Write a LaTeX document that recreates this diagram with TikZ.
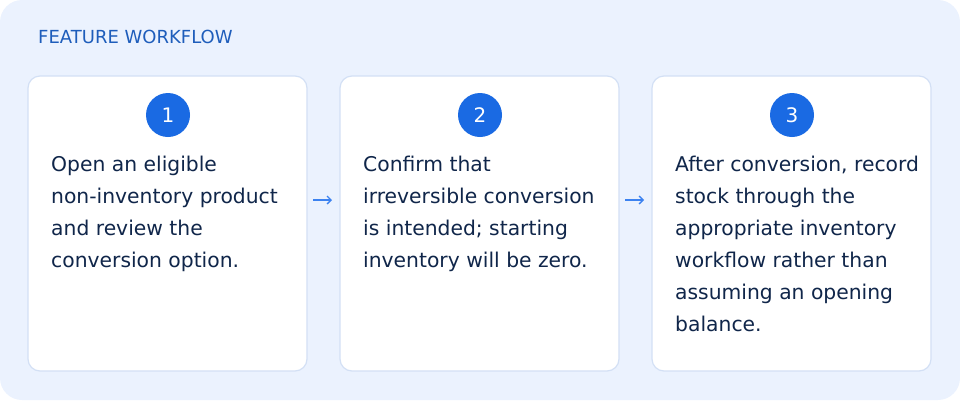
\documentclass[tikz,border=0pt]{standalone}
\usepackage{fontspec}
\setmainfont{DejaVu Sans}
\begin{document}
\begin{tikzpicture}[x=1pt,y=-1pt,
  card/.style={draw=cardline,line width=1.2pt,fill=white,rounded corners=12pt},
  num/.style={circle,fill=numblue,text=white,minimum size=44pt,inner sep=0pt,font=\fontsize{20}{20}\selectfont},
  body/.style={anchor=north west,align=left,text=bodytxt,inner sep=0pt,font=\fontsize{20.3}{32}\selectfont},
  arr/.style={->,draw=arrblue,line width=1.3pt,>={Straight Barb[length=4pt]}}]
\usetikzlibrary{arrows.meta}
\definecolor{bg}{HTML}{EBF2FE}
\definecolor{cardline}{HTML}{D3E0F5}
\definecolor{numblue}{HTML}{1A6AE3}
\definecolor{bodytxt}{HTML}{10264A}
\definecolor{arrblue}{HTML}{3C82F0}
\definecolor{title}{HTML}{1E5DBB}
\fill[bg,rounded corners=22pt] (0,0) rectangle (960,400);
\useasboundingbox (0,0) rectangle (960,400);
\node[anchor=west,text=title,inner sep=0pt,font=\fontsize{18}{18}\selectfont] (t) at (38,37) {FEATURE WORKFLOW};
\foreach \i/\x in {1/28,2/340,3/652}{
  \draw[card] (\x,76) rectangle (\x+279,371);
  \node[num] (n\i) at (\x+140,115) {\i};
}
\node[body] (b1) at (51,156) {Open an eligible\\non-inventory product\\and review the\\conversion option.};
\node[body] (b2) at (363,156) {Confirm that\\irreversible conversion\\is intended; starting\\inventory will be zero.};
\node[body] (b3) at (675,156) {After conversion, record\\stock through the\\appropriate inventory\\workflow rather than\\assuming an opening\\balance.};
\coordinate (a1) at (313,200); \coordinate (a2) at (332,200);
\coordinate (c1) at (625,200); \coordinate (c2) at (644,200);
\draw[arr] (a1) -- (a2);
\draw[arr] (c1) -- (c2);
\end{tikzpicture}
\end{document}
